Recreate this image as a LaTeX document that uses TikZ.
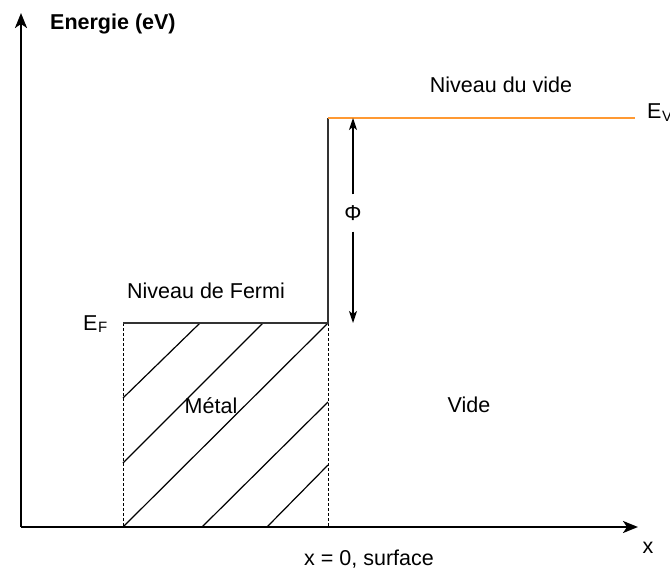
\documentclass[tikz,border=0pt]{standalone}
\usepackage{fontspec}
\setmainfont{Liberation Sans}
\usetikzlibrary{arrows.meta}
\definecolor{axisgray}{HTML}{333333}
\definecolor{vacorange}{HTML}{FF9933}
\begin{document}
\begin{tikzpicture}[x=1pt,y=-1pt,
  lbl/.style={inner sep=0pt, font=\fontsize{21.5}{25}\selectfont},
  axisline/.style={draw=black, line width=2.2pt, line join=miter,
    -{Stealth[length=15pt,width=12pt,inset=4pt]}},
  stepline/.style={draw=axisgray, line width=2.6pt, line join=miter},
  vacline/.style={draw=vacorange, line width=2.8pt},
  hatch/.style={draw=black, line width=1.2pt},
  dashline/.style={draw=black, line width=0.9pt, dash pattern=on 3pt off 2pt},
  phiarrow/.style={draw=black, line width=1.2pt, -{Stealth[length=12pt,width=8pt,inset=3pt]}}
]
\useasboundingbox (0,0) rectangle (670,570);

% key points
\coordinate (O) at (21,527);
\coordinate (ytip) at (21,13);
\coordinate (xtip) at (638,527);
\coordinate (FL) at (123,323);
\coordinate (FR) at (328,323);
\coordinate (VL) at (328,118);
\coordinate (VR) at (635,118);
\coordinate (BL) at (123,527);
\coordinate (BR) at (328,527);

% hatch lines of the metal
\coordinate (h1a) at (123,398); \coordinate (h1b) at (200,323);
\coordinate (h2a) at (123,463); \coordinate (h2b) at (263,323);
\coordinate (h3a) at (123,527); \coordinate (h3b) at (328,323);
\coordinate (h4a) at (202,527); \coordinate (h4b) at (328,402);
\coordinate (h5a) at (267,527); \coordinate (h5b) at (328,465);
\draw[hatch] (h1a) -- (h1b);
\draw[hatch] (h2a) -- (h2b);
\draw[hatch] (h3a) -- (h3b);
\draw[hatch] (h4a) -- (h4b);
\draw[hatch] (h5a) -- (h5b);

% dashed sides
\draw[dashline] (FL) -- (BL);
\draw[dashline] (FR) -- (BR);

% axes
\draw[axisline] (O) -- (ytip);
\draw[axisline] (O) -- (xtip);

% Fermi level and step
\draw[stepline] (FL) -- (FR) -- (VL);
% vacuum level
\draw[vacline] (VL) -- (VR);

% work function arrow
\node[lbl, minimum height=37pt] (phi) at (353,213) {Φ};
\coordinate (phitop) at (353,118);
\coordinate (phibot) at (353,323);
\draw[phiarrow] (phi.north) -- (phitop);
\draw[phiarrow] (phi.south) -- (phibot);

% labels
\node[lbl, font=\bfseries\fontsize{21.5}{25}\selectfont, anchor=base west] (ener) at (50,29) {Energie (eV)};
\node[lbl, anchor=base] (nvide) at (501,92) {Niveau du vide};
\node[lbl, anchor=base] (nfermi) at (206,298) {Niveau de Fermi};
\node[lbl, anchor=base west] (ef) at (83,330) {E\kern0.5pt\raisebox{-2pt}{\fontsize{15}{16}\selectfont F}};
\node[lbl, anchor=base west] (ev) at (647,118) {E\kern0.5pt\raisebox{-3pt}{\fontsize{15}{16}\selectfont V}};
\node[lbl, anchor=base] (metal) at (211,413) {Métal};
\node[lbl, anchor=base] (vide) at (469,412) {Vide};
\node[lbl, anchor=base] (surf) at (369,565) {x = 0, surface};
\node[lbl, anchor=base] (xlab) at (648,553) {x};
\end{tikzpicture}
\end{document}
